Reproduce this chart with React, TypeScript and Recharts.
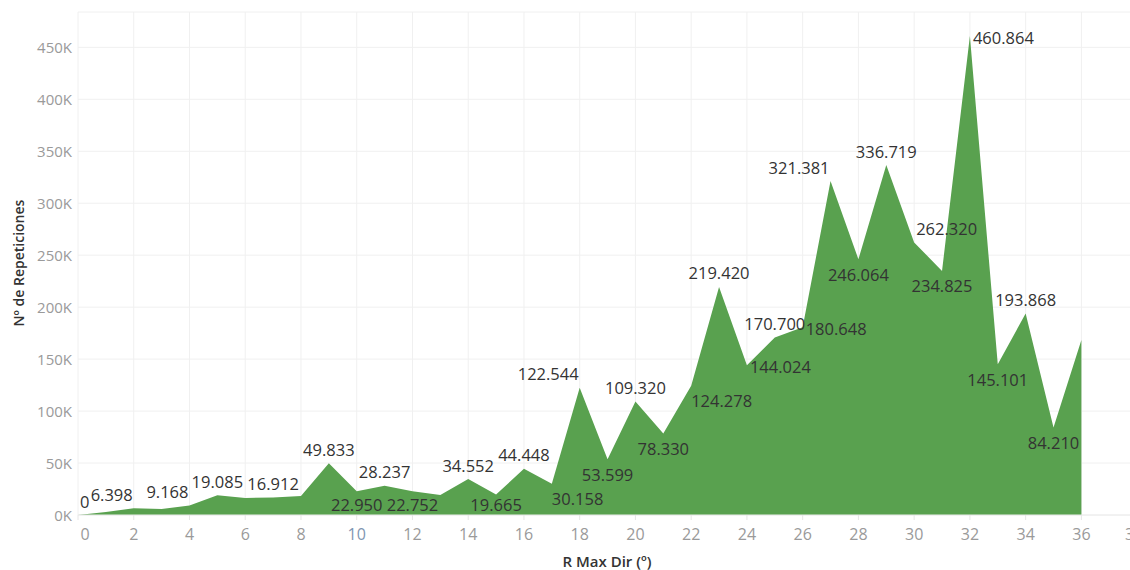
import { Area, AreaChart, CartesianGrid, LabelList, XAxis, YAxis } from 'recharts'

// R Max Dir (º) buckets and counts of repetitions
const dirs = [
  0, 1, 2, 3, 4, 5, 6, 7, 8, 9, 10, 11, 12, 13, 14, 15, 16, 17, 18, 19, 20, 21, 22, 23, 24, 25, 26, 27, 28, 29,
  30, 31, 32, 33, 34, 35, 36,
]
const repeticiones = [
  0, 3000, 6398, 5700, 9168, 19085, 16300, 16912, 18300, 49833, 22950, 28237, 22752, 19300, 34552, 19665, 44448,
  30158, 122544, 53599, 109320, 78330, 124278, 219420, 144024, 170700, 180648, 321381, 246064, 336719, 262320,
  234825, 460864, 145101, 193868, 84210, 168500,
]
const xTicks = [0, 2, 4, 6, 8, 10, 12, 14, 16, 18, 20, 22, 24, 26, 28, 30, 32, 34, 36, 38]
const yTicks = [0, 50000, 100000, 150000, 200000, 250000, 300000, 350000, 400000, 450000]

// labels Tableau dropped because of overlap
const hiddenLabels = new Set([1, 3, 6, 8, 13, 36])

type Placement = 'above' | 'below' | 'leftAbove' | 'rightAbove' | 'rightBelow' | 'right'
const placement: Record<number, Placement> = {
  0: 'rightAbove',
  2: 'leftAbove',
  4: 'leftAbove',
  10: 'below',
  12: 'below',
  15: 'below',
  17: 'rightBelow',
  18: 'leftAbove',
  19: 'below',
  21: 'below',
  22: 'rightBelow',
  24: 'right',
  26: 'right',
  27: 'leftAbove',
  28: 'below',
  30: 'rightAbove',
  31: 'below',
  32: 'right',
  33: 'below',
  35: 'below',
}

const FONT = '"Open Sans", Lato, sans-serif'

function fmtDots(v: number) {
  return String(Math.round(v)).replace(/\B(?=(\d{3})+(?!\d))/g, '.')
}

function fmtK(v: number) {
  return `${v / 1000}K`
}

const data = dirs.map((d, i) => ({ dir: d, n: repeticiones[i] }))

function renderLabel(props: any) {
  const { x, y, value, index } = props
  const dir = dirs[index]
  if (hiddenLabels.has(dir) || x == null || y == null) return null
  const p = placement[dir] ?? 'above'
  let tx = x
  let ty = y
  let anchor: 'start' | 'middle' | 'end' = 'middle'
  if (p === 'above') ty = y - 14
  else if (p === 'below') ty = Math.min(y + 15, 504)
  else if (p === 'leftAbove') {
    tx = x - 1
    ty = y - 14
    anchor = 'end'
  } else if (p === 'rightAbove') {
    tx = x + 2
    ty = y - 14
    anchor = 'start'
  } else if (p === 'rightBelow') {
    tx = x
    ty = y + 15
    anchor = 'start'
  } else if (p === 'right') {
    tx = x + 3
    ty = y + 1
    anchor = 'start'
  }
  return (
    <text
      x={tx}
      y={ty}
      textAnchor={anchor}
      dominantBaseline="central"
      fill="#333333"
      fontSize={16.5}
      fontFamily={FONT}
    >
      {fmtDots(value)}
    </text>
  )
}

function XTick(props: any) {
  const { x, y, payload } = props
  const v = payload.value
  const shift = v === 0 ? 7 : v === 38 ? -3 : 0
  return (
    <text
      x={x + shift}
      y={y + 12}
      textAnchor="middle"
      dominantBaseline="central"
      fill={v === 10 ? '#7f96b2' : '#9a9a9a'}
      fontSize={16}
      fontFamily={FONT}
    >
      {v}
    </text>
  )
}

function YTick(props: any) {
  const { y, payload } = props
  return (
    <text x={72} y={y} textAnchor="end" dominantBaseline="central" fill="#9a9a9a" fontSize={15} fontFamily={FONT}>
      {fmtK(payload.value)}
    </text>
  )
}

export default function App() {
  return (
    <div style={{ position: 'absolute', left: 0, top: 0, width: 1170, height: 570, background: '#fff' }}>
      <style>{'body{margin:0;overflow:hidden;background:#fff}'}</style>
      <AreaChart width={1170} height={570} data={data} margin={{ top: 12, right: 5, bottom: 0, left: 0 }}>
        <CartesianGrid stroke="#f0f0f0" />
        <XAxis
          dataKey="dir"
          type="number"
          domain={[0, 39]}
          ticks={xTicks}
          allowDataOverflow
          height={55}
          tick={<XTick />}
          tickSize={5}
          tickLine={{ stroke: '#e6e6e6' }}
          axisLine={{ stroke: '#ececec' }}
          label={{
            content: () => (
              <text
                x={607}
                y={561}
                textAnchor="middle"
                dominantBaseline="central"
                fill="#333333"
                fontSize={15}
                fontWeight={600}
                fontFamily={FONT}
              >
                R Max Dir (º)
              </text>
            ),
          }}
        />
        <YAxis
          type="number"
          domain={[0, 484000]}
          ticks={yTicks}
          allowDataOverflow
          width={78}
          tick={<YTick />}
          tickLine={false}
          axisLine={false}
          label={{
            content: () => (
              <text
                x={18}
                y={263}
                transform="rotate(-90 18 263)"
                textAnchor="middle"
                dominantBaseline="central"
                fill="#333333"
                fontSize={14}
                fontWeight={600}
                fontFamily={FONT}
              >
                Nº de Repeticiones
              </text>
            ),
          }}
        />
        <Area
          type="linear"
          dataKey="n"
          stroke="none"
          fill="#59A14F"
          fillOpacity={1}
          baseValue={0}
          isAnimationActive={false}
        >
          <LabelList dataKey="n" content={renderLabel} />
        </Area>
      </AreaChart>
    </div>
  )
}
